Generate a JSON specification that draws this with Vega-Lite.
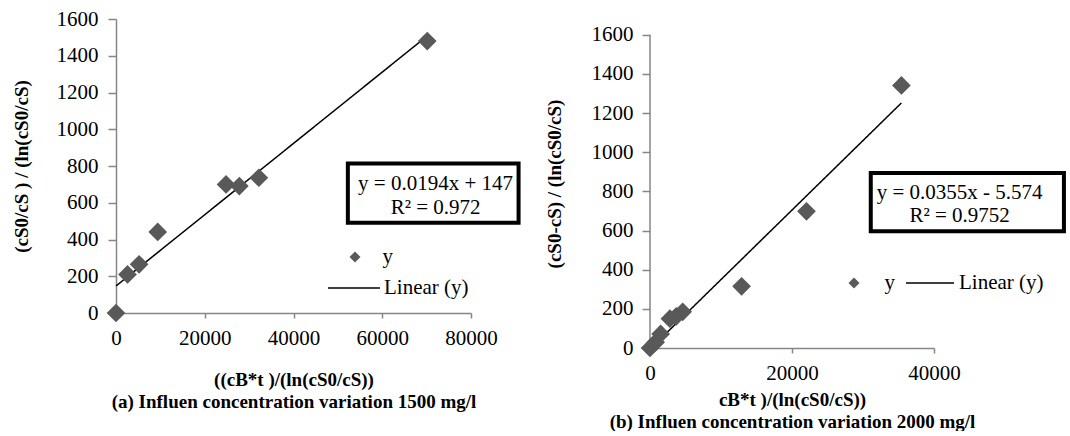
{
  "$schema": "https://vega.github.io/schema/vega-lite/v6.json",
  "padding": {"left": 12, "top": 8, "right": 0, "bottom": 0},
  "spacing": 24,
  "config": {
    "font": "Liberation Serif",
    "view": {"stroke": null},
    "style": {"guide-label": {"font": "Liberation Serif"}},
    "axis": {
      "labelFont": "Liberation Serif",
      "labelFontSize": 21,
      "labelColor": "black",
      "labelFlush": false,
      "labelOverlap": false,
      "titleFont": "Liberation Serif",
      "titleFontSize": 19,
      "titleFontWeight": "bold",
      "titleColor": "black",
      "titleLineHeight": 22,
      "domainColor": "#868686",
      "domainWidth": 1.5,
      "tickColor": "#868686",
      "tickWidth": 1.5,
      "tickSize": 5,
      "grid": false
    },
    "legend": {
      "labelFont": "Liberation Serif",
      "labelFontSize": 21,
      "labelColor": "black",
      "padding": 0
    }
  },
  "resolve": {
    "scale": {"shape": "independent", "strokeDash": "independent"},
    "legend": {"shape": "independent", "strokeDash": "independent"}
  },
  "hconcat": [
    {
      "width": 355,
      "height": 294,
      "encoding": {
        "x": {"field": "x", "type": "quantitative",
          "scale": {"domain": [0, 80000], "nice": false, "zero": false},
          "axis": {"values": [0, 20000, 40000, 60000, 80000], "format": "d", "labelFont": "Liberation Serif", "labelPadding": 9, "titlePadding": 22,
            "title": ["((cB*t )/(ln(cS0/cS))", "(a) Influen concentration variation 1500 mg/l"]}},
        "y": {"field": "y", "type": "quantitative",
          "scale": {"domain": [0, 1600], "nice": false, "zero": false},
          "axis": {"values": [0, 200, 400, 600, 800, 1000, 1200, 1400, 1600], "format": "d", "labelFont": "Liberation Serif", "tickSize": 8, "labelPadding": 10, "titlePadding": 25,
            "title": "(cS0/cS ) / (ln(cS0/cS)"}}
      },
      "layer": [
        {
          "data": {"values": [{"x": 52250, "x2": 90720, "y": 813, "y2": 491}]},
          "mark": {"type": "rect", "fill": "white", "stroke": "black", "strokeWidth": 4},
          "encoding": {"x2": {"field": "x2"}, "y2": {"field": "y2"}}
        },
        {
          "data": {"values": [
            {"x": 72020, "y": 704, "label": "y = 0.0194x + 147"},
            {"x": 72020, "y": 573, "label": "R² = 0.972"}
          ]},
          "mark": {"type": "text", "fontSize": 21, "font": "Liberation Serif", "align": "center", "baseline": "middle", "color": "black"},
          "encoding": {"text": {"field": "label"}}
        },
        {
          "data": {"values": [
            {"x": 0, "y": 147, "series": "Linear (y)"},
            {"x": 70140, "y": 1507.7, "series": "Linear (y)"}
          ]},
          "mark": {"type": "line", "color": "black", "strokeWidth": 1.5},
          "encoding": {
            "strokeDash": {"field": "series", "type": "nominal", "scale": {"range": [[1, 0]]},
              "legend": {"orient": "none", "legendX": 211, "legendY": 242, "title": null, "symbolType": "stroke",
                "symbolSize": 2704, "symbolStrokeWidth": 1.5, "symbolStrokeColor": "black", "labelOffset": 3}}
          }
        },
        {
          "data": {"values": [
            {"x": 0, "y": 0, "series": "y"},
            {"x": 2600, "y": 210, "series": "y"},
            {"x": 5200, "y": 265, "series": "y"},
            {"x": 9400, "y": 441, "series": "y"},
            {"x": 24800, "y": 700, "series": "y"},
            {"x": 27800, "y": 691, "series": "y"},
            {"x": 32200, "y": 736, "series": "y"},
            {"x": 70140, "y": 1480, "series": "y"}
          ]},
          "mark": {"type": "point", "filled": true, "color": "#595959", "opacity": 1, "size": 350},
          "encoding": {
            "shape": {"field": "series", "type": "nominal", "scale": {"range": ["diamond"]},
              "legend": {"orient": "none", "legendX": 228.5, "legendY": 227.5, "title": null,
                "symbolSize": 120, "symbolFillColor": "#595959", "symbolStrokeColor": "#595959", "labelOffset": 17}}
          }
        }
      ]
    },
    {
      "width": 284,
      "height": 329,
      "encoding": {
        "x": {"field": "x", "type": "quantitative",
          "scale": {"domain": [0, 40000], "nice": false, "zero": false},
          "axis": {"values": [0, 20000, 40000], "format": "d", "labelFont": "Liberation Serif", "labelPadding": 9, "titlePadding": 7,
            "title": ["cB*t )/(ln(cS0/cS))", "(b) Influen concentration variation 2000 mg/l"]}},
        "y": {"field": "y", "type": "quantitative",
          "scale": {"domain": [0, 1680.2], "nice": false, "zero": false},
          "axis": {"values": [0, 200, 400, 600, 800, 1000, 1200, 1400, 1600], "format": "d", "labelFont": "Liberation Serif", "tickSize": 8, "labelPadding": 9, "titlePadding": 27,
            "domain": false, "title": "(cS0-cS) / (ln(cS0/cS)"}}
      },
      "layer": [
        {
          "data": {"values": [{"x": 0, "y": 0, "y2": 1600}]},
          "mark": {"type": "rule", "color": "#868686", "strokeWidth": 1.5},
          "encoding": {"y2": {"field": "y2"}}
        },
        {
          "data": {"values": [{"x": 31094, "x2": 58300, "y": 894, "y2": 596}]},
          "mark": {"type": "rect", "fill": "white", "stroke": "black", "strokeWidth": 4},
          "encoding": {"x2": {"field": "x2"}, "y2": {"field": "y2"}}
        },
        {
          "data": {"values": [
            {"x": 43616, "y": 792, "label": "y = 0.0355x - 5.574"},
            {"x": 43616, "y": 672, "label": "R² = 0.9752"}
          ]},
          "mark": {"type": "text", "fontSize": 21, "font": "Liberation Serif", "align": "center", "baseline": "middle", "color": "black"},
          "encoding": {"text": {"field": "label"}}
        },
        {
          "data": {"values": [
            {"x": 0, "y": -5.574, "series": "Linear (y)"},
            {"x": 35410, "y": 1251.5, "series": "Linear (y)"}
          ]},
          "mark": {"type": "line", "color": "black", "strokeWidth": 1.5},
          "encoding": {
            "strokeDash": {"field": "series", "type": "nominal", "scale": {"range": [[1, 0]]},
              "legend": {"orient": "none", "legendX": 255, "legendY": 239, "title": null, "symbolType": "stroke",
                "symbolSize": 2304, "symbolStrokeWidth": 1.5, "symbolStrokeColor": "black", "labelOffset": 4}}
          }
        },
        {
          "data": {"values": [
            {"x": 0, "y": 0, "series": "y"},
            {"x": 800, "y": 30, "series": "y"},
            {"x": 1500, "y": 72, "series": "y"},
            {"x": 2800, "y": 150, "series": "y"},
            {"x": 3700, "y": 162, "series": "y"},
            {"x": 4600, "y": 185, "series": "y"},
            {"x": 12900, "y": 315, "series": "y"},
            {"x": 22040, "y": 698, "series": "y"},
            {"x": 35410, "y": 1341, "series": "y"}
          ]},
          "mark": {"type": "point", "filled": true, "color": "#595959", "opacity": 1, "size": 350},
          "encoding": {
            "shape": {"field": "series", "type": "nominal", "scale": {"range": ["diamond"]},
              "legend": {"orient": "none", "legendX": 193.5, "legendY": 253.5, "title": null,
                "symbolSize": 120, "symbolFillColor": "#595959", "symbolStrokeColor": "#595959", "labelOffset": 20}}
          }
        }
      ]
    }
  ]
}
